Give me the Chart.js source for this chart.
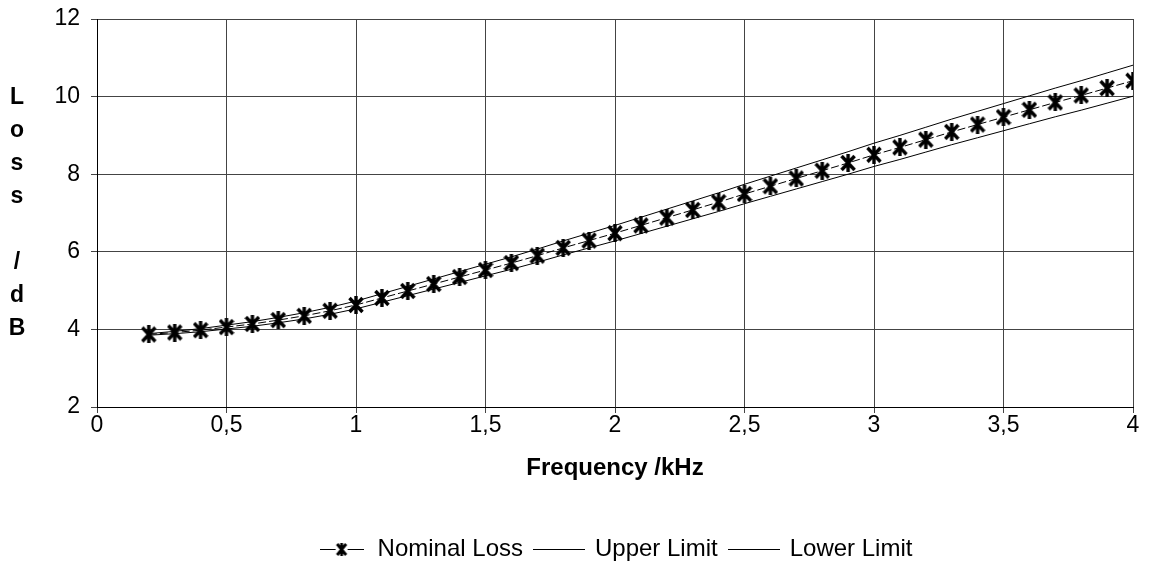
<!DOCTYPE html>
<html>
<head>
<meta charset="utf-8">
<script src="https://cdn.jsdelivr.net/npm/chart.js@4/dist/chart.umd.min.js"></script>
<style>
  html, body { margin: 0; padding: 0; background: #ffffff; }
  #wrap { position: relative; width: 1150px; height: 579px; }
</style>
</head>
<body>
<div id="wrap"><canvas id="c" width="1150" height="579"></canvas></div>
<script>
// ---- data ----
const frequencies = [0.2,0.3,0.4,0.5,0.6,0.7,0.8,0.9,1.0,1.1,1.2,1.3,1.4,1.5,1.6,1.7,1.8,1.9,2.0,
  2.1,2.2,2.3,2.4,2.5,2.6,2.7,2.8,2.9,3.0,3.1,3.2,3.3,3.4,3.5,3.6,3.7,3.8,3.9,4.0];
const nominalLoss = [3.87,3.92,3.98,4.06,4.14,4.24,4.35,4.48,4.63,4.81,4.99,5.17,5.35,5.53,5.71,5.90,6.10,6.29,6.48,
  6.68,6.88,7.08,7.28,7.49,7.69,7.89,8.09,8.29,8.50,8.69,8.89,9.09,9.28,9.47,9.66,9.85,10.03,10.22,10.41];
const upperLimit = [3.89,3.95,4.02,4.11,4.20,4.31,4.43,4.57,4.73,4.92,5.11,5.30,5.49,5.68,5.87,6.07,6.28,6.48,6.68,
  6.89,7.10,7.31,7.52,7.74,7.95,8.16,8.37,8.58,8.80,9.00,9.21,9.42,9.62,9.82,10.02,10.22,10.41,10.61,10.81];
const lowerLimit = [3.85,3.89,3.94,4.01,4.08,4.17,4.27,4.39,4.53,4.70,4.87,5.04,5.21,5.38,5.55,5.73,5.92,6.10,6.28,
  6.47,6.66,6.85,7.04,7.24,7.43,7.62,7.81,8.00,8.20,8.38,8.57,8.76,8.94,9.12,9.30,9.48,9.65,9.83,10.01];
const seriesNames = ['Nominal Loss', 'Upper Limit', 'Lower Limit'];
const xTicks = [0, 0.5, 1, 1.5, 2, 2.5, 3, 3.5, 4];
const yTicks = [2, 4, 6, 8, 10, 12];
const xTitle = 'Frequency /kHz';
const yTitleLetters = ['L','o','s','s','','/','d','B'];

const FONT = 'Arial, "Liberation Sans", Helvetica, sans-serif';
const FS_TICK = 23;
const FS_TEXT = 24;

// star marker (X with vertical bar)
function makeStar(w, h, lw) {
  const c = document.createElement('canvas');
  c.width = w; c.height = h;
  const g = c.getContext('2d');
  g.strokeStyle = '#000'; g.lineWidth = lw; g.lineCap = 'butt';
  g.beginPath();
  g.moveTo(1.5, 2); g.lineTo(w - 1.5, h - 2);
  g.moveTo(w - 1.5, 2); g.lineTo(1.5, h - 2);
  g.moveTo(w / 2, 0); g.lineTo(w / 2, h);
  g.stroke();
  return c;
}
const starMarker = makeStar(16, 18, 3.4);

function makeLegendIcon(withStar) {
  const c = document.createElement('canvas');
  const W = withStar ? 44 : 52;
  c.width = W; c.height = 14;
  const g = c.getContext('2d');
  g.strokeStyle = '#000'; g.lineWidth = 1;
  if (withStar) {
    g.beginPath(); g.moveTo(0, 7.5); g.lineTo(16, 7.5); g.moveTo(28, 7.5); g.lineTo(44, 7.5); g.stroke();
    g.lineWidth = 2.8;
    g.beginPath();
    g.moveTo(17.5, 2); g.lineTo(26.5, 13);
    g.moveTo(26.5, 2); g.lineTo(17.5, 13);
    g.moveTo(22, 1); g.lineTo(22, 14);
    g.stroke();
  } else {
    g.beginPath(); g.moveTo(0, 7.5); g.lineTo(W, 7.5); g.stroke();
  }
  return c;
}
const legendIcons = [makeLegendIcon(true), makeLegendIcon(false), makeLegendIcon(false)];

const yTitlePlugin = {
  id: 'yTitle',
  afterLayout(chart) {
    // centre the legend under the plot area rather than the whole canvas
    const lg = chart.legend;
    if (lg) {
      const shift = (chart.chartArea.left + chart.chartArea.right) / 2 - (lg.left + lg.right) / 2;
      lg.left += shift; lg.right += shift;
    }
  },
  afterDraw(chart) {
    const ctx = chart.ctx;
    ctx.save();
    ctx.font = 'bold ' + FS_TICK + 'px ' + FONT;
    ctx.fillStyle = '#000';
    ctx.textAlign = 'center';
    ctx.textBaseline = 'middle';
    yTitleLetters.forEach((ch, i) => { if (ch) ctx.fillText(ch, 17, 98 + i * 33); });
    ctx.restore();
  }
};

const mkPts = (ys) => frequencies.map((x, i) => ({ x: x, y: ys[i] }));

new Chart(document.getElementById('c'), {
  type: 'line',
  data: {
    datasets: [
      { label: seriesNames[0], data: mkPts(nominalLoss), borderColor: '#000', borderWidth: 1,
        borderDash: [8, 3], pointStyle: starMarker, pointRadius: 8, tension: 0, fill: false },
      { label: seriesNames[1], data: mkPts(upperLimit), borderColor: '#000', borderWidth: 1,
        pointRadius: 0, tension: 0, fill: false },
      { label: seriesNames[2], data: mkPts(lowerLimit), borderColor: '#000', borderWidth: 1,
        pointRadius: 0, tension: 0, fill: false }
    ]
  },
  options: {
    responsive: false,
    animation: false,
    devicePixelRatio: 1,
    layout: { padding: { left: 0, right: 17, top: 19, bottom: 8 } },
    plugins: {
      tooltip: { enabled: false },
      legend: {
        position: 'bottom',
        labels: {
          usePointStyle: true,
          pointStyleWidth: 48,
          color: '#000',
          font: { family: FONT, size: FS_TEXT },
          padding: 12,
          generateLabels: (chart) => seriesNames.map((n, i) => ({
            text: n, pointStyle: legendIcons[i], fillStyle: '#000', strokeStyle: '#000',
            lineWidth: 0, hidden: false, datasetIndex: i, fontColor: '#000'
          }))
        }
      }
    },
    scales: {
      x: {
        type: 'linear', min: 0, max: 4,
        afterBuildTicks: (s) => { s.ticks = xTicks.map(v => ({ value: v })); },
        afterFit: (s) => { s.height = 118; },
        ticks: { color: '#000', font: { family: FONT, size: FS_TICK }, padding: -1,
          callback: (v) => String(v).replace('.', ',') },
        grid: { color: '#444', lineWidth: 1, tickLength: 6, drawTicks: true },
        border: { color: '#000', width: 1 },
        title: { display: true, text: xTitle, color: '#000',
          font: { family: FONT, size: FS_TEXT, weight: 'bold' }, padding: { top: 0, bottom: 42 } }
      },
      y: {
        type: 'linear', min: 2, max: 12,
        afterBuildTicks: (s) => { s.ticks = yTicks.map(v => ({ value: v })); },
        afterFit: (s) => { s.width = 97; s.paddingTop = 0; s.paddingBottom = 0; },
        ticks: { color: '#000', font: { family: FONT, size: FS_TICK }, padding: 11 },
        grid: { color: '#444', lineWidth: 1, tickLength: 6, drawTicks: true },
        border: { color: '#000', width: 1 }
      }
    }
  },
  plugins: [yTitlePlugin]
});
</script>
</body>
</html>
